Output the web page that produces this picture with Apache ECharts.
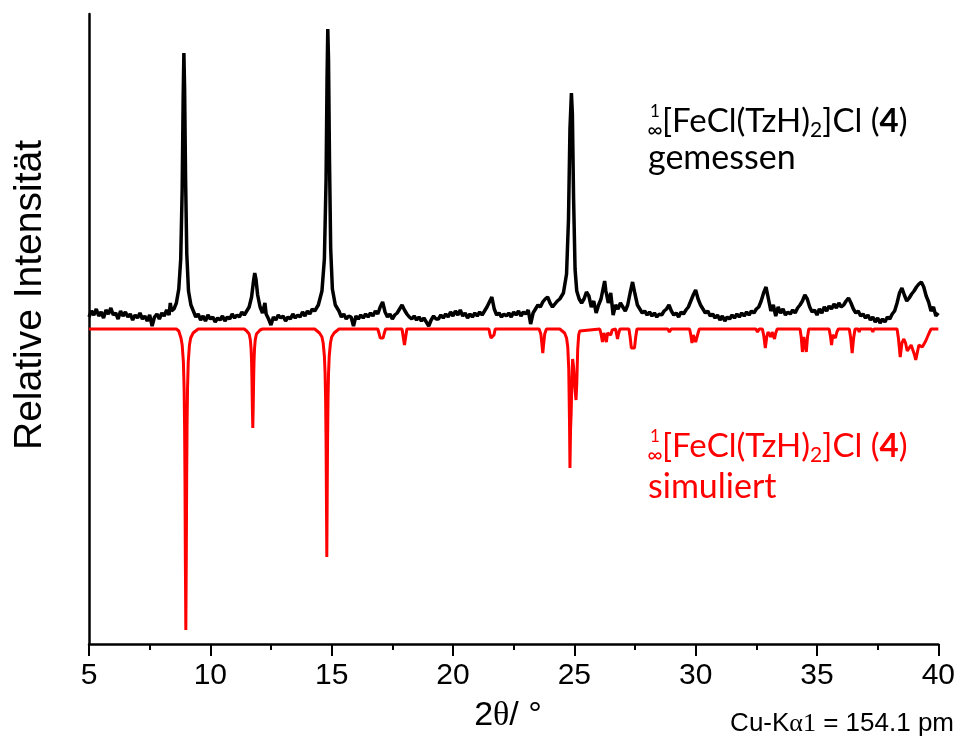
<!DOCTYPE html>
<html>
<head>
<meta charset="utf-8">
<script src="https://cdn.jsdelivr.net/npm/echarts@6/dist/echarts.min.js"></script>
<style>html,body{margin:0;padding:0;background:#fff;}#c{width:958px;height:744px;}</style>
</head>
<body>
<div id="c"></div>
<script>
// X axis ticks (2θ in degrees)
const xTicks = [5, 10, 15, 20, 25, 30, 35, 40];

// Measured powder pattern [2θ, relative intensity] (offset above the simulated trace)
const measured = [
[5.0,12],[5.1,18],[5.2,14],[5.3,20],[5.4,13],[5.5,17],[5.6,11],[5.7,19],[5.8,15],[5.9,21],
[6.0,14],[6.1,16],[6.2,10],[6.3,18],[6.4,13],[6.5,17],[6.6,12],[6.7,15],[6.8,9],[6.9,14],
[7.0,11],[7.1,16],[7.2,10],[7.3,13],[7.4,8],[7.5,14],[7.6,3],[7.7,12],[7.8,15],[7.9,10],
[8.0,16],[8.1,13],[8.2,19],[8.3,14],[8.35,26],[8.4,18],[8.5,20],[8.6,26],[8.7,40],[8.78,70],
[8.84,140],[8.88,230],[8.91,276],[8.94,240],[8.98,150],[9.03,75],[9.1,38],[9.2,24],[9.3,18],
[9.4,12],[9.5,15],[9.6,9],[9.7,13],[9.8,8],[9.9,14],[10.0,10],[10.1,12],[10.2,7],[10.3,11],
[10.4,9],[10.5,13],[10.6,8],[10.7,12],[10.8,10],[10.9,15],[11.0,11],[11.1,14],[11.2,12],[11.3,17],
[11.4,14],[11.5,18],[11.6,22],[11.7,32],[11.78,48],[11.83,56],[11.88,50],[11.95,34],[12.05,22],[12.15,16],
[12.25,26],[12.3,15],[12.4,10],[12.5,4],[12.6,12],[12.7,9],[12.8,14],[12.9,11],[13.0,13],[13.1,8],
[13.2,12],[13.3,10],[13.4,15],[13.5,11],[13.6,14],[13.7,12],[13.8,17],[13.9,13],[14.0,18],[14.1,15],
[14.2,20],[14.3,18],[14.45,24],[14.6,38],[14.7,70],[14.77,150],[14.81,250],[14.84,300],[14.87,270],[14.91,170],
[14.96,80],[15.03,40],[15.15,24],[15.3,18],[15.4,12],[15.5,15],[15.6,10],[15.7,13],[15.8,12],[15.9,3],
[16.0,13],[16.1,10],[16.2,14],[16.3,11],[16.4,15],[16.5,12],[16.6,16],[16.7,13],[16.8,18],[16.9,15],
[17.0,22],[17.1,27],[17.2,17],[17.3,12],[17.4,15],[17.5,10],[17.6,14],[17.7,16],[17.8,20],[17.9,24],
[18.0,19],[18.1,15],[18.2,12],[18.3,10],[18.4,13],[18.5,9],[18.6,12],[18.7,8],[18.8,11],[18.9,7],
[19.0,3],[19.1,9],[19.2,13],[19.3,10],[19.4,10],[19.5,14],[19.6,11],[19.7,15],[19.8,12],[19.9,17],
[20.0,13],[20.1,18],[20.2,14],[20.3,19],[20.4,13],[20.5,16],[20.6,11],[20.7,15],[20.8,12],[20.9,16],
[21.0,13],[21.1,17],[21.2,14],[21.3,18],[21.4,22],[21.5,27],[21.6,32],[21.7,20],[21.8,14],[21.9,16],
[22.0,12],[22.1,15],[22.2,13],[22.3,16],[22.4,12],[22.5,17],[22.6,14],[22.7,18],[22.8,13],[22.9,17],
[23.0,15],[23.1,19],[23.2,5],[23.3,16],[23.4,20],[23.5,24],[23.6,22],[23.7,27],[23.8,30],[23.9,32],
[24.0,26],[24.1,22],[24.2,25],[24.3,28],[24.4,30],[24.55,36],[24.68,55],[24.76,110],[24.82,200],[24.88,236],
[24.92,215],[24.97,130],[25.03,60],[25.1,38],[25.2,30],[25.3,26],[25.4,30],[25.5,37],[25.6,33],[25.7,22],
[25.8,28],[25.9,16],[26.0,24],[26.1,30],[26.2,42],[26.25,48],[26.3,38],[26.4,26],[26.5,36],[26.6,14],
[26.7,24],[26.8,20],[26.9,26],[27.0,22],[27.1,18],[27.2,24],[27.3,36],[27.4,47],[27.5,35],[27.6,24],
[27.7,20],[27.8,16],[27.9,18],[28.0,14],[28.1,17],[28.2,13],[28.3,16],[28.4,12],[28.5,15],[28.6,14],
[28.7,18],[28.8,20],[28.9,24],[29.0,18],[29.1,14],[29.2,16],[29.3,12],[29.4,17],[29.5,15],[29.6,19],
[29.7,22],[29.8,28],[29.9,34],[30.0,39],[30.1,30],[30.2,24],[30.3,20],[30.4,16],[30.5,18],[30.6,13],
[30.7,15],[30.8,11],[30.9,14],[31.0,9],[31.1,13],[31.2,8],[31.3,12],[31.4,10],[31.5,14],[31.6,11],
[31.7,15],[31.8,12],[31.9,16],[32.0,13],[32.1,17],[32.2,14],[32.3,18],[32.4,16],[32.5,20],[32.6,22],
[32.7,28],[32.8,36],[32.9,42],[33.0,30],[33.1,18],[33.2,24],[33.3,13],[33.4,22],[33.5,16],[33.6,20],
[33.7,14],[33.8,17],[33.9,15],[34.0,19],[34.1,16],[34.2,21],[34.3,24],[34.4,28],[34.5,34],[34.6,30],
[34.7,22],[34.8,17],[34.9,19],[35.0,14],[35.1,20],[35.2,16],[35.3,22],[35.4,18],[35.5,23],[35.6,20],
[35.7,25],[35.8,21],[35.9,26],[36.0,22],[36.1,24],[36.2,28],[36.3,31],[36.4,26],[36.5,20],[36.6,16],
[36.7,18],[36.8,13],[36.9,15],[37.0,11],[37.1,14],[37.2,9],[37.3,12],[37.4,7],[37.5,11],[37.6,6],
[37.7,10],[37.8,7],[37.9,12],[38.0,10],[38.1,15],[38.2,18],[38.3,26],[38.4,36],[38.5,41],[38.6,34],
[38.7,28],[38.8,31],[38.9,35],[39.0,38],[39.1,42],[39.2,45],[39.3,47],[39.4,42],[39.5,33],[39.6,27],
[39.7,18],[39.8,22],[39.9,13],[40.0,16]
];

// Simulated pattern [2θ, relative intensity] (drawn downward)
const simulated = [
[5,0],[8.6,0],[8.7,-2],[8.79,-9],[8.84,-16],[8.89,-33],[8.92,-60],[8.94,-99],[8.955,-150],[8.97,-227],
[8.99,-301],[9.01,-227],[9.025,-150],[9.04,-99],[9.06,-60],[9.09,-33],[9.14,-16],[9.19,-9],[9.29,-4],[9.39,-2],[9.5,0],
[11.4,0],[11.5,-2],[11.55,-3],[11.6,-5],[11.65,-11],[11.68,-20],[11.7,-33],[11.715,-50],[11.73,-75],[11.75,-99],
[11.77,-75],[11.785,-50],[11.8,-33],[11.82,-20],[11.85,-11],[11.9,-5],[11.95,-3],[12.05,-1],[12.15,0],
[14.3,0],[14.4,-2],[14.5,-4],[14.6,-8],[14.65,-14],[14.7,-27],[14.73,-45],[14.75,-70],[14.77,-115],[14.785,-170],
[14.8,-228],[14.815,-170],[14.83,-115],[14.85,-70],[14.87,-45],[14.9,-27],[14.95,-14],[15.0,-8],[15.1,-4],[15.2,-2],[15.3,0],
[16.9,0],[16.96,-5],[17.0,-9],[17.12,-9],[17.16,-5],[17.22,0],
[17.9,0],[17.95,-8],[18.0,-16],[18.05,-8],[18.1,0],
[21.48,0],[21.53,-6],[21.57,-9],[21.65,-9],[21.69,-6],[21.74,0],
[23.55,0],[23.62,-5],[23.66,-14],[23.7,-24],[23.74,-14],[23.78,-5],[23.85,0],
[24.4,0],[24.5,-2],[24.6,-4],[24.68,-9],[24.73,-18],[24.77,-40],[24.8,-90],[24.82,-139],[24.845,-100],[24.87,-84],
[24.9,-50],[24.93,-30],[24.97,-38],[25.02,-58],[25.07,-71],[25.1,-55],[25.14,-20],[25.18,-6],[25.22,-2],[25.3,0],
[26.05,0],[26.1,-5],[26.16,-13],[26.22,-4],[26.27,-6],[26.32,-13],[26.37,-4],[26.45,-2],[26.5,-6],[26.56,-1],
[26.7,0],[26.74,-5],[26.78,-10],[26.82,-5],[26.88,0],
[27.25,0],[27.3,-8],[27.35,-19],[27.48,-19],[27.53,-8],[27.58,0],
[28.85,0],[28.92,-3],[28.99,0],
[29.75,0],[29.8,-6],[29.85,-14],[29.9,-6],[29.94,-5],[30.0,-13],[30.05,-13],[30.1,-4],[30.15,0],
[32.48,0],[32.55,-3],[32.62,0],
[32.75,0],[32.81,-7],[32.87,-19],[32.93,-8],[32.98,-3],[33.04,-4],[33.1,-8],[33.15,-3],[33.2,-4],[33.25,-10],[33.3,-4],[33.36,0],
[34.3,0],[34.35,-8],[34.4,-23],[34.46,-8],[34.5,-8],[34.56,-23],[34.61,-8],[34.66,0],
[35.5,0],[35.56,-8],[35.6,-16],[35.65,-6],[35.7,-4],[35.76,-9],[35.82,-3],[35.88,0],
[36.33,0],[36.39,-9],[36.45,-24],[36.51,-9],[36.57,0],[36.7,0],[36.74,-3],[36.78,0],
[37.25,0],[37.3,-3],[37.35,0],
[38.3,0],[38.36,-10],[38.43,-28],[38.5,-14],[38.58,-10],[38.65,-14],[38.72,-22],[38.8,-22],[38.88,-16],[38.95,-18],
[39.02,-26],[39.07,-31],[39.13,-24],[39.2,-16],[39.28,-15],[39.34,-18],[39.42,-20],[39.48,-12],[39.55,-10],[39.62,-4],
[39.7,0],[40,0]
];

const chart = echarts.init(document.getElementById('c'), null, {renderer: 'canvas'});
const sansAx = '"Liberation Sans", Arial, sans-serif';
const serif = '"Liberation Serif", "DejaVu Serif", serif';
const sansLbl = 'Lato, "Noto Sans", sans-serif';

function label(color, y1, y2, line2) {
  return [
    {type: 'text', x: 655, y: y1 - 9, style: {text: '1', fontSize: 17, fontFamily: sansLbl, fill: color, align: 'center', verticalAlign: 'middle'}},
    {type: 'text', x: 655, y: y1 + 9, style: {text: '∞', fontSize: 21, fontFamily: sansLbl, fill: color, align: 'center', verticalAlign: 'middle'}},
    {type: 'text', x: 662, y: y1,
     style: {text: '[FeCl(TzH){sub|2}]Cl ({b|4})', fontSize: 33, fontFamily: sansLbl, fill: color, align: 'left', verticalAlign: 'middle', lineHeight: 40,
       rich: {sub: {fontSize: 21, fontFamily: sansLbl, fill: color, verticalAlign: 'bottom', lineHeight: 40},
              b: {fontSize: 33, fontWeight: 'bold', fontFamily: sansLbl, fill: color, lineHeight: 40}}}},
    {type: 'text', x: 648, y: y2, style: {text: line2, fontSize: 34, fontFamily: sansLbl, fill: color, align: 'left', verticalAlign: 'middle'}}
  ];
}

chart.setOption({
  animation: false,
  backgroundColor: '#ffffff',
  grid: {left: 89, right: 19, top: 14, bottom: 100, containLabel: false},
  xAxis: {
    type: 'value', min: xTicks[0], max: xTicks[xTicks.length - 1], interval: 5,
    axisLine: {onZero: false, lineStyle: {color: '#000', width: 2.5}},
    axisTick: {show: true, inside: false, length: 12, lineStyle: {color: '#000', width: 2}},
    minorTick: {show: true, splitNumber: 2, length: 6, lineStyle: {color: '#000', width: 2}},
    axisLabel: {color: '#000', fontSize: 30, fontFamily: sansAx, margin: 17},
    splitLine: {show: false}
  },
  yAxis: {
    type: 'value', min: -315, max: 315,
    axisLine: {show: true, onZero: false, lineStyle: {color: '#000', width: 2.5}},
    axisTick: {show: false}, axisLabel: {show: false}, splitLine: {show: false}
  },
  series: [
    {type: 'line', data: measured, showSymbol: false, symbol: 'none', z: 2,
     lineStyle: {color: '#000000', width: 3.5}},
    {type: 'line', data: simulated, showSymbol: false, symbol: 'none', z: 3,
     lineStyle: {color: '#ff0000', width: 3}}
  ],
  graphic: [
    {type: 'text', x: 30, y: 295, rotation: Math.PI / 2,
     style: {text: 'Relative Intensität', fontSize: 39, fontFamily: sansAx, fill: '#000', align: 'center', verticalAlign: 'middle'}},
    {type: 'text', x: 508, y: 716,
     style: {text: '2{s|θ}/ °', fontSize: 34, fontFamily: sansAx, fill: '#000', align: 'center', verticalAlign: 'middle',
       rich: {s: {fontSize: 34, fontFamily: serif, fill: '#000'}}}},
    {type: 'text', x: 954, y: 724,
     style: {text: 'Cu-K{s|α1} = 154.1 pm', fontSize: 26, fontFamily: sansAx, fill: '#000', align: 'right', verticalAlign: 'middle',
       rich: {s: {fontSize: 26, fontFamily: serif, fill: '#000'}}}}
  ].concat(label('#000000', 121, 158, 'gemessen'), label('#ff0000', 446, 487, 'simuliert'))
});
</script>
</body>
</html>
